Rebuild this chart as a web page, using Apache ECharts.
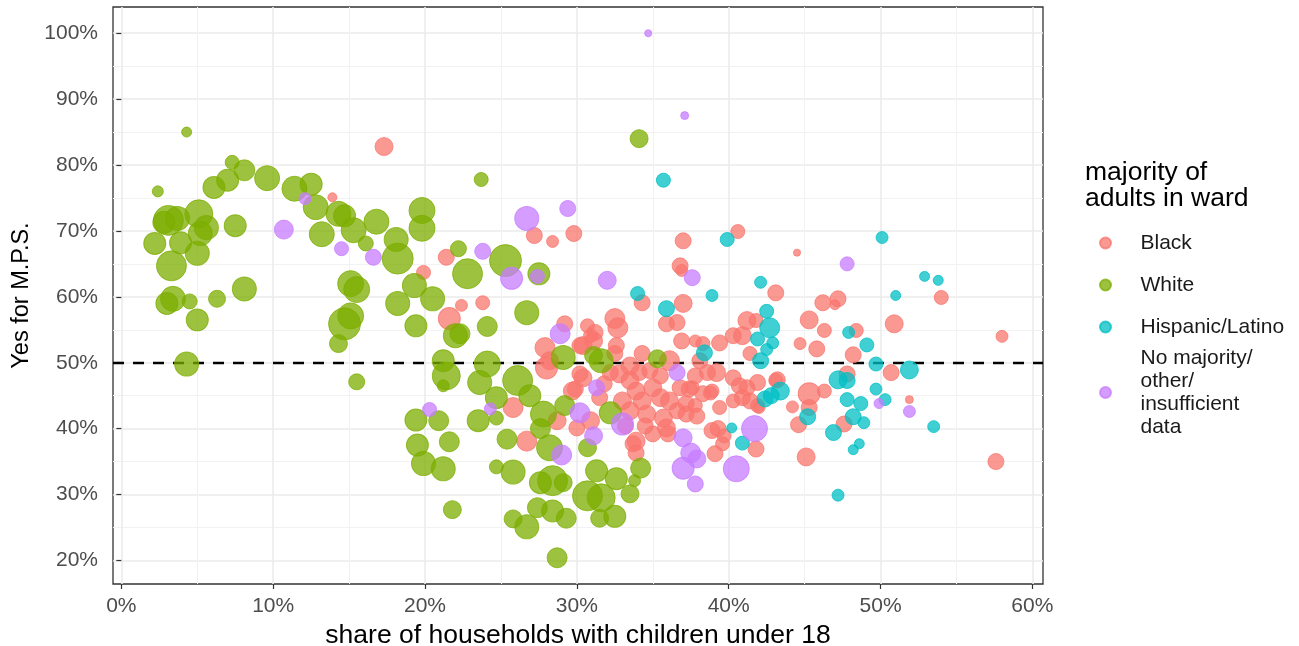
<!DOCTYPE html>
<html>
<head>
<meta charset="utf-8">
<script src="https://cdn.jsdelivr.net/npm/echarts@6/dist/echarts.min.js"></script>
<style>
  html, body { margin: 0; padding: 0; background: #ffffff; }
  #chart { width: 1299px; height: 646px; }
</style>
</head>
<body>
<div id="chart"></div>
<script>
// Ward groups by majority of adults, in legend order
const groupNames = ['Black', 'White', 'Hispanic/Latino', 'No majority/other/insufficient data'];
const groupColors = ['#F8766D', '#7CAE00', '#00BFC4', '#C77CFF'];

// Each ward: [share of households with children under 18 (%), yes for M.P.S. (%), ballots cast]
const blackWards = [
  [17.3,82.8,1940],[13.9,75.1,490],[19.9,63.7,1180],[22.4,58.7,860],[23.8,59.1,1180],
  [21.6,56.7,2900],[21.4,66.0,1540],[27.2,69.3,1540],[28.4,68.4,860],[29.8,69.6,1540],
  [37.0,68.5,1540],[36.8,64.7,1540],[36.9,64.0,860],[40.6,69.9,1180],[44.5,66.7,300],
  [43.1,60.6,1540],[54.0,59.9,1180],[46.2,59.1,1540],[47.2,59.7,1540],[47.0,58.8,600],
  [45.3,56.5,1940],[46.3,54.9,1180],[44.7,52.9,860],[45.8,52.1,1540],[50.9,55.9,1940],
  [58.0,54.0,860],[48.4,54.9,1180],[48.2,51.2,1540],[50.7,48.5,1540],[47.8,48.3,1540],
  [51.9,44.4,380],[47.6,40.7,1540],[57.6,35.0,1540],[45.1,35.7,1940],[45.3,45.3,2900],
  [45.3,43.2,1540],[44.6,40.6,1540],[44.2,43.3,860],[46.3,45.7,1180],[43.2,47.4,1540],
  [41.9,47.0,1540],[41.2,46.2,1540],[41.4,44.2,1540],[41.9,43.5,1180],[41.8,36.9,1540],
  [41.2,56.4,1940],[41.8,56.4,1180],[40.9,54.1,1940],[41.4,51.4,1180],[40.3,54.1,1540],
  [39.4,53.0,1540],[38.3,52.9,1180],[37.8,53.3,860],[39.2,48.5,1940],[40.3,47.7,1540],
  [40.7,46.5,1540],[40.9,44.7,1540],[42.0,43.2,860],[43.1,47.3,1180],[37.6,46.2,1180],
  [38.3,45.3,1540],[38.8,45.4,1180],[37.8,43.5,1180],[39.3,40.0,1540],[39.7,38.9,1180],
  [39.6,37.7,1180],[39.1,36.2,1540],[34.3,59.1,1540],[37.0,59.0,1940],[35.9,55.9,1540],
  [36.6,56.1,1540],[32.5,56.7,2400],[32.7,55.3,2400],[29.2,55.9,1540],[30.7,55.6,1180],
  [31.2,54.6,1540],[31.1,53.3,1940],[30.4,52.6,1940],[27.9,52.3,2400],[28.0,49.2,2900],
  [28.2,50.3,1940],[32.5,51.4,1540],[34.3,51.4,1540],[33.5,49.5,1940],[36.9,53.3,1540],
  [36.1,50.3,2400],[29.7,45.7,1940],[30.4,47.7,1940],[31.5,44.7,1540],[32.8,48.3,1940],
  [33.5,47.3,1940],[33.9,45.7,1940],[34.3,44.2,1940],[35.0,46.2,1940],[35.5,44.7,1940],
  [36.1,44.2,1940],[36.8,46.2,1540],[37.2,43.8,1540],[37.4,46.0,1540],[38.9,45.7,1180],
  [33.0,44.2,1940],[33.5,42.7,1940],[34.6,42.2,1940],[35.7,41.6,1940],[36.6,42.7,1540],
  [37.2,42.2,1540],[30.0,40.1,1540],[33.9,38.1,1940],[35.9,40.1,1940],[38.9,39.7,1540],
  [38.6,48.5,1540],[26.7,38.1,2400],[25.8,43.2,2400],[28.7,41.2,1940],[30.9,41.2,1940],
  [33.7,37.7,1540],[33.9,36.3,1540],[35.0,39.2,1540],[36.0,39.2,1540],[32.6,52.6,1540],
  [30.2,52.6,1540],[30.9,54.1,1180],[29.9,46.0,1540],[30.2,48.3,1540],[31.8,46.8,1540],
  [34.8,48.8,1540],[35.5,48.0,1540],[34.1,48.5,1540],[38.1,50.3,1540],[32.2,48.5,1540],
  [33.2,40.4,1540],[34.5,40.4,1540],[37.9,41.9,1540],[37.8,48.0,1540],[39.4,43.2,1180],
  [40.3,44.2,1180]
];

const whiteWards = [
  [4.3,85.0,600],[2.4,76.0,730],[7.3,80.4,1180],[8.1,79.2,2650],[7.0,77.7,2900],
  [6.1,76.6,2900],[9.6,78.0,3750],[11.4,76.4,3750],[12.5,77.1,2900],[12.8,73.6,3750],
  [14.3,72.6,3750],[14.7,72.3,2900],[15.3,70.1,3750],[16.8,71.4,3750],[16.1,68.1,1350],
  [13.2,69.5,3750],[18.1,68.7,3460],[18.2,65.8,5770],[15.1,62.0,4060],[15.5,61.1,4060],
  [19.8,73.1,4060],[19.8,70.4,4060],[19.3,61.7,3460],[3.1,71.6,5400],[3.7,71.9,3460],
  [2.8,71.3,2900],[5.1,72.6,4700],[5.6,70.5,3460],[5.2,69.6,3460],[3.9,68.2,2900],
  [2.2,68.1,2900],[5.0,66.6,3460],[3.3,64.7,5400],[7.5,70.8,2900],[8.1,61.2,3460],
  [3.4,59.7,3750],[3.0,59.0,2900],[4.5,59.3,1350],[6.3,59.7,1730],[5.0,56.5,2900],
  [4.3,49.8,3460],[14.7,55.9,6140],[15.1,57.1,4060],[14.3,52.9,1940],[15.5,47.1,1540],
  [18.2,59.0,3460],[19.4,55.6,2900],[19.4,41.3,2900],[19.5,37.5,2900],[19.9,34.7,3460],
  [20.5,59.7,3460],[22.0,54.1,3460],[24.1,55.5,2400],[26.7,57.6,3460],[21.2,50.3,2900],
  [21.4,48.0,4700],[21.2,46.5,860],[24.1,49.8,4060],[23.6,47.0,3460],[26.1,47.3,5400],
  [24.7,44.7,2900],[26.9,45.0,2900],[27.8,42.2,4060],[29.2,43.5,2400],[20.9,41.2,2400],
  [24.7,41.6,1180],[23.5,41.2,2900],[25.4,38.4,2400],[21.6,38.0,2400],[21.2,33.9,3460],
  [24.7,34.2,1180],[25.8,33.4,3460],[21.8,27.7,1940],[26.7,25.1,3460],[25.8,26.3,1940],
  [27.6,40.0,2400],[28.2,37.1,4060],[28.4,32.1,5400],[27.6,31.8,2900],[29.1,31.8,1940],
  [27.4,28.0,2400],[28.4,27.5,2900],[29.3,26.4,2400],[28.7,20.4,2400],[30.7,29.8,5400],
  [31.6,29.5,4700],[31.3,33.6,2900],[32.6,32.4,2900],[32.5,26.7,2900],[31.5,26.4,1940],
  [33.5,30.1,1940],[34.2,34.0,2400],[33.8,32.1,860],[30.7,37.1,1940],[32.2,42.4,2900],
  [31.6,50.3,3460],[29.1,50.8,3460],[35.3,50.6,1940],[23.7,77.8,1180],[34.1,84.0,1940],
  [22.8,63.5,5400],[25.3,65.5,6140],[27.5,63.5,2900],[22.2,67.3,1540],[22.3,54.4,2400],
  [31.1,51.1,1940]
];

const hispanicWards = [
  [35.7,77.7,1180],[34.0,60.5,1180],[38.9,60.2,860],[39.9,68.7,1180],[50.1,69.0,860],
  [42.1,62.2,860],[52.9,63.1,600],[53.8,62.5,600],[51.0,60.2,600],[47.9,54.6,860],
  [49.1,52.7,1180],[49.7,49.8,1180],[51.9,48.9,1940],[47.2,47.4,1940],[47.8,47.3,1540],
  [49.7,46.0,860],[50.3,44.4,860],[47.8,44.4,1180],[48.7,43.8,1180],[48.2,41.8,1540],
  [48.9,40.9,860],[46.9,39.4,1540],[48.6,37.7,600],[48.2,36.8,600],[53.5,40.3,860],
  [47.2,29.9,860],[45.2,41.8,1540],[43.4,45.7,1940],[42.4,44.5,1540],[42.8,45.0,1540],
  [42.5,57.8,1180],[42.7,55.3,2400],[41.9,53.6,1180],[42.9,53.0,860],[42.5,52.0,860],
  [42.1,50.3,1540],[40.9,37.8,1180],[40.2,40.1,600],[38.4,51.5,1540],[35.9,58.2,1540]
];

const otherWards = [
  [34.7,100.0,300],[37.1,87.5,380],[26.7,71.9,3460],[29.4,73.4,1540],[23.8,66.9,1540],
  [25.7,62.8,2900],[27.4,63.1,1180],[32.0,62.5,1940],[37.6,62.9,1540],[10.7,70.2,2170],
  [12.1,74.9,860],[14.5,67.3,1180],[16.6,66.0,1540],[20.3,42.9,1180],[24.3,43.0,860],
  [28.9,54.4,2400],[31.3,46.2,1540],[30.2,42.4,2400],[33.0,40.7,2900],[31.1,38.9,1940],
  [29.0,36.0,2400],[37.0,38.6,1940],[37.5,36.3,2400],[37.0,34.0,2900],[37.9,35.4,1940],
  [37.8,31.6,1540],[41.7,40.0,4060],[40.5,33.9,4060],[47.8,65.0,1180],[51.9,42.6,860],
  [49.9,43.8,600],[36.6,48.5,1540]
];

const groupData = [blackWards, whiteWards, hispanicWards, otherWards];

// Axis ticks and the reference line
const xTicks = [0, 10, 20, 30, 40, 50, 60];
const yTicks = [20, 30, 40, 50, 60, 70, 80, 90, 100];
const majorityLine = 50;

const FONT = '"Liberation Sans", Arial, Helvetica, sans-serif';
const legendLabels = {
  'No majority/other/insufficient data': 'No majority/\nother/\ninsufficient\ndata'
};

const chart = echarts.init(document.getElementById('chart'), null, { renderer: 'canvas' });

const pointSeries = groupNames.map((name, i) => ({
  name: name,
  type: 'scatter',
  data: groupData[i],
  z: 2,
  clip: false,
  symbol: 'circle',
  symbolSize: v => Math.sqrt(v[2] / 6),
  itemStyle: {
    color: groupColors[i],
    borderColor: groupColors[i],
    borderWidth: 1,
    opacity: 0.75
  },
  emphasis: { disabled: true }
}));

// Dashed reference line at the 50% mark, drawn beneath the points
pointSeries.push({
  name: 'reference',
  type: 'scatter',
  data: [],
  z: 1,
  markLine: {
    silent: true,
    z: 1,
    symbol: ['none', 'none'],
    label: { show: false },
    lineStyle: { color: '#000000', type: [11, 9], width: 2.3 },
    data: [{ yAxis: majorityLine }]
  }
});

const legendCommon = {
  orient: 'vertical',
  left: 1099,
  icon: 'circle',
  itemWidth: 60,
  itemHeight: 11,
  itemGap: 19,
  padding: 0,
  selectedMode: false,
  formatter: name => legendLabels[name] || name,
  textStyle: { fontFamily: FONT, fontSize: 21, color: '#1a1a1a', lineHeight: 23, padding: [0, 0, 0, 0] }
};

const option = {
  animation: false,
  backgroundColor: '#ffffff',
  title: {
    text: 'majority of\nadults in ward',
    left: 1085,
    top: 160,
    padding: 0,
    textStyle: { fontFamily: FONT, fontSize: 26.5, fontWeight: 'normal', color: '#000000', lineHeight: 26 }
  },
  legend: [
    Object.assign({}, legendCommon, { top: 231.5, data: groupNames.slice(0, 3) }),
    Object.assign({}, legendCommon, { top: 346.5, data: groupNames.slice(3) })
  ],
  grid: {
    left: 113, top: 7, width: 930, height: 577,
    outerBoundsMode: 'none',
    containLabel: false,
    show: true, borderColor: '#333333', borderWidth: 1.3, backgroundColor: '#ffffff'
  },
  xAxis: {
    type: 'value',
    min: -0.55,
    max: 60.7,
    splitNumber: 6,
    name: 'share of households with children under 18',
    nameLocation: 'middle',
    nameGap: 37,
    nameTextStyle: { fontFamily: FONT, fontSize: 26.5, color: '#000000' },
    axisLine: { show: false },
    axisTick: { show: true, length: 5, lineStyle: { color: '#333333', width: 1.2 }, customValues: xTicks },
    axisLabel: { customValues: xTicks, formatter: '{value}%', fontFamily: FONT, fontSize: 21, color: '#4d4d4d', margin: 12 },
    splitLine: { show: true, lineStyle: { color: '#ebebeb', width: 1.6 } },
    minorTick: { show: false, splitNumber: 2 },
    minorSplitLine: { show: true, lineStyle: { color: '#f2f2f2', width: 1 } }
  },
  yAxis: {
    type: 'value',
    min: 16.42,
    max: 103.98,
    splitNumber: 8,
    name: 'Yes for M.P.S.',
    nameLocation: 'middle',
    nameGap: 70,
    nameTextStyle: { fontFamily: FONT, fontSize: 23.5, color: '#000000' },
    axisLine: { show: false },
    axisTick: { show: true, length: 5, lineStyle: { color: '#333333', width: 1.2 }, customValues: yTicks },
    axisLabel: { customValues: yTicks, formatter: '{value}%', fontFamily: FONT, fontSize: 21, color: '#4d4d4d', margin: 15 },
    splitLine: { show: true, lineStyle: { color: '#ebebeb', width: 1.6 } },
    minorTick: { show: false, splitNumber: 2 },
    minorSplitLine: { show: true, lineStyle: { color: '#f2f2f2', width: 1 } }
  },
  series: pointSeries
};

chart.setOption(option);
</script>
</body>
</html>
